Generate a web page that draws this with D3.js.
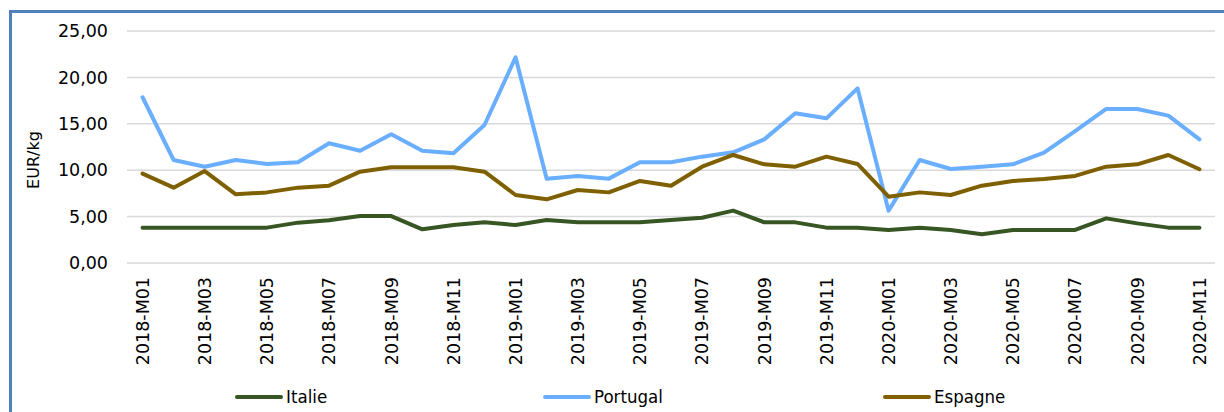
<!DOCTYPE html>
<html><head><meta charset="utf-8">
<script src="https://cdn.jsdelivr.net/npm/d3@7/dist/d3.min.js"></script>
<style>body{margin:0;background:#fff}svg{display:block}</style>
</head><body><svg id="c" width="1224" height="412"></svg>
<script>
const months = [];
["2018","2019","2020"].forEach(y=>{for(let m=1;m<=12;m++){months.push(y+"-M"+String(m).padStart(2,"0"));}});
const categories = months.slice(0,35);
const italie = [3.81,3.81,3.81,3.81,3.81,4.35,4.6,5.06,5.06,3.63,4.09,4.38,4.09,4.63,4.38,4.38,4.38,4.63,4.88,5.64,4.38,4.38,3.81,3.81,3.56,3.81,3.56,3.09,3.56,3.56,3.56,4.81,4.27,3.81,3.81];
const portugal = [17.86,11.1,10.38,11.1,10.67,10.85,12.9,12.1,13.87,12.1,11.82,14.87,22.16,9.09,9.38,9.09,10.85,10.85,11.46,11.93,13.32,16.13,15.59,18.82,5.64,11.1,10.13,10.38,10.63,11.89,14.22,16.6,16.6,15.88,13.32];
const espagne = [9.63,8.12,9.91,7.4,7.61,8.12,8.33,9.84,10.31,10.31,10.31,9.84,7.33,6.86,7.87,7.61,8.84,8.33,10.38,11.64,10.63,10.38,11.46,10.67,7.15,7.61,7.33,8.33,8.84,9.05,9.38,10.38,10.63,11.64,10.1];
const yTicks = [0,5,10,15,20,25];
const seriesNames = ["Italie","Portugal","Espagne"];
const colors = ["#375623","#6AAEFF","#7F6000"];
const seriesData = [italie, portugal, espagne];

const svg = d3.select("#c");
svg.append("rect").attr("x",10.5).attr("y",11.5).attr("width",1230).attr("height",420)
  .attr("fill","none").attr("stroke","#4F81BD").attr("stroke-width",3);

const mL=127, mR=1215, mT=31, mB=263;
const x = d3.scalePoint().domain(categories).range([mL,mR]).padding(0.5);
const y = d3.scaleLinear().domain([0,25]).range([mB,mT]);
const fmt = d => d.toFixed(2).replace(".",",");

svg.append("g").selectAll("line").data(yTicks).join("line")
  .attr("x1",mL).attr("x2",mR).attr("y1",d=>y(d)).attr("y2",d=>y(d))
  .attr("stroke","#D9D9D9").attr("stroke-width",1.5);

const yAxis = svg.append("g").attr("transform",`translate(${mL},0)`)
  .call(d3.axisLeft(y).tickValues(yTicks).tickFormat(fmt).tickSize(0).tickPadding(19));
yAxis.select(".domain").remove();
yAxis.selectAll("text").attr("font-family","DejaVu Sans").attr("font-size",17.5).attr("fill","#000");

const xAxis = svg.append("g").attr("transform",`translate(0,${mB})`)
  .call(d3.axisBottom(x).tickValues(categories.filter((d,i)=>i%2===0)).tickSize(0));
xAxis.select(".domain").remove();
xAxis.selectAll("text").attr("font-family","DejaVu Sans").attr("font-size",17.5).attr("fill","#000")
  .attr("transform","rotate(-90)").attr("text-anchor","end").attr("dx",-14).attr("dy","0.33em").attr("x",0).attr("y",0);

svg.append("text").attr("transform","translate(39,160) rotate(-90)").attr("text-anchor","middle")
  .attr("font-family","DejaVu Sans").attr("font-size",16).text("EUR/kg");

const line = d3.line().x((d,i)=>x(categories[i])).y(d=>y(d));
seriesData.forEach((s,k)=>{
  svg.append("path").datum(s).attr("d",line).attr("fill","none").attr("stroke",colors[k])
    .attr("stroke-width",4).attr("stroke-linejoin","round").attr("stroke-linecap","round");
});

const legendX = [235,543,883];
const lg = svg.append("g");
seriesNames.forEach((n,k)=>{
  lg.append("line").attr("x1",legendX[k]+2).attr("x2",legendX[k]+46).attr("y1",397).attr("y2",397)
    .attr("stroke",colors[k]).attr("stroke-width",4).attr("stroke-linecap","round");
  lg.append("text").attr("x",legendX[k]+51).attr("y",397).attr("dy","0.35em")
    .attr("font-family","DejaVu Sans Condensed").attr("font-stretch","condensed").attr("font-size",18.5).text(n);
});
</script></body></html>
